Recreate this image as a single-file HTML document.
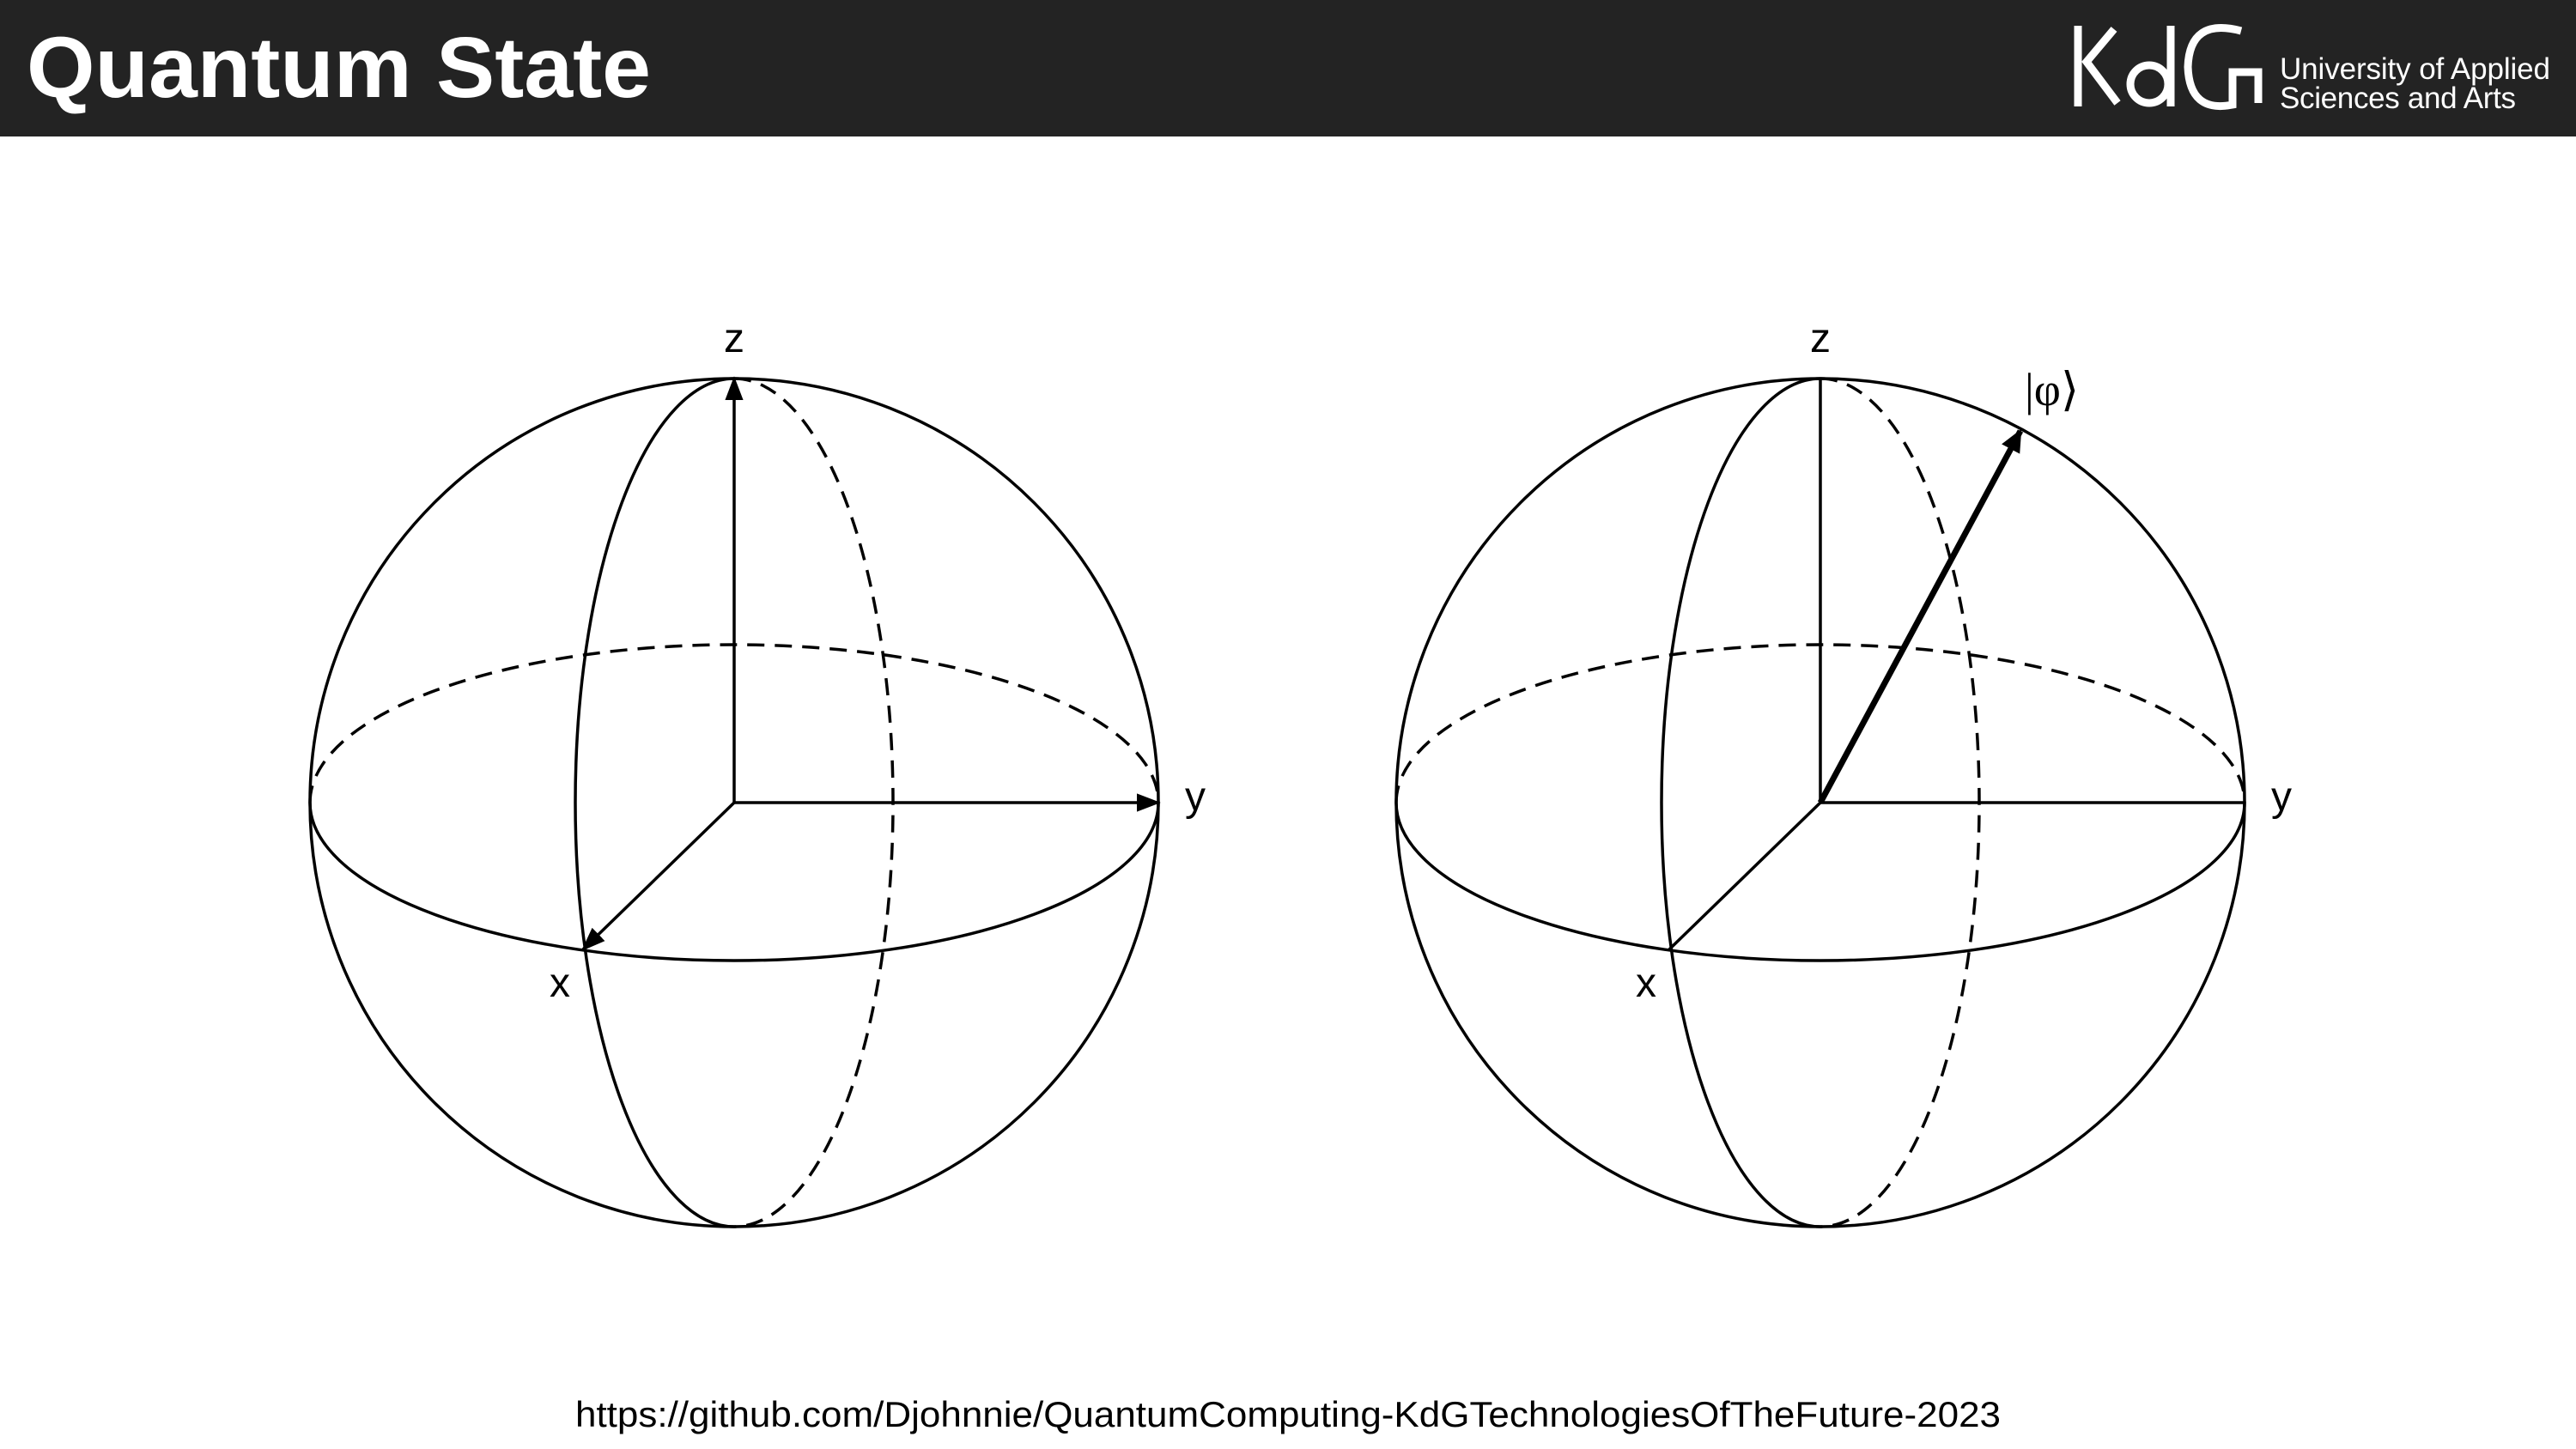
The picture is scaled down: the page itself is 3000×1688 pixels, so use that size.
<!DOCTYPE html>
<html><head><meta charset="utf-8"><style>
html,body{margin:0;padding:0;background:#fff;}
svg{display:block;}
</style></head><body>
<svg width="3000" height="1688" viewBox="0 0 3000 1688" xmlns="http://www.w3.org/2000/svg">
<defs>
<marker id="ah" viewBox="0 0 10 10" refX="9" refY="5" markerWidth="8" markerHeight="8" orient="auto-start-reverse" markerUnits="strokeWidth">
<path d="M0,1.2 L10,5 L0,8.8 z" fill="#000"/>
</marker>
<marker id="ah2" viewBox="0 0 10 10" refX="9" refY="5" markerWidth="3.8" markerHeight="3.8" orient="auto" markerUnits="strokeWidth">
<path d="M0,0.5 L10,5 L0,9.5 z" fill="#000"/>
</marker>
</defs>
<rect x="0" y="0" width="3000" height="159" fill="#232323"/>
<text x="31" y="113" font-family="Liberation Sans, sans-serif" font-weight="bold" font-size="100" fill="#fff" textLength="727" lengthAdjust="spacingAndGlyphs">Quantum State</text>
<g fill="none" stroke="#fff" stroke-width="9">
<line x1="2420" y1="30" x2="2420" y2="124"/>
<path d="M2462,34 L2430,72 L2466,120"/>
<circle cx="2503" cy="98" r="22"/>
<line x1="2528" y1="30" x2="2528" y2="124"/>
<path d="M2610,36 Q2550,20 2548,78 Q2550,132 2600,122 L2600,84 L2630,84 L2630,120"/>
</g>
<text x="2655" y="92" font-family="Liberation Sans, sans-serif" font-size="35" fill="#fff" textLength="315">University of Applied</text>
<text x="2655" y="126" font-family="Liberation Sans, sans-serif" font-size="35" fill="#fff" textLength="275">Sciences and Arts</text>

<g id="spheres"></g>

<text x="1500" y="1662" text-anchor="middle" font-family="Liberation Sans, sans-serif" font-size="42" fill="#000" textLength="1660" lengthAdjust="spacingAndGlyphs">https://github.com/Djohnnie/QuantumComputing-KdGTechnologiesOfTheFuture-2023</text>
</svg>
<script>
const sphereCentersX = [855, 2120];
const sphereCenterY = 935;
const radius = 494;
const equatorRy = 184;
const meridianRx = 185;
const axisLabels = ['z','y','x'];
const stateVector = [233, -433];
const NS='http://www.w3.org/2000/svg';
const g=document.getElementById('spheres');
function mk(tag,attrs,parent){const e=document.createElementNS(NS,tag);for(const k in attrs)e.setAttribute(k,attrs[k]);(parent||g).appendChild(e);return e;}
sphereCentersX.forEach((cx,i)=>{
  const cy=sphereCenterY,r=radius;
  const sg=mk('g',{fill:'none',stroke:'#000','stroke-width':3.5});
  
  
  const c=mk('circle',{cx,cy,r},sg);
  
  
  const ef=mk('path',{d:`M${cx-r},${cy} A${r},${equatorRy} 0 0 0 ${cx+r},${cy}`},sg);
  
  
  const eb=mk('path',{d:`M${cx-r},${cy} A${r},${equatorRy} 0 0 1 ${cx+r},${cy}`,'stroke-dasharray':'20 12'},sg);
  
  
  const mf=mk('path',{d:`M${cx},${cy-r} A${meridianRx},${r} 0 0 0 ${cx},${cy+r}`},sg);
  
  
  const mb=mk('path',{d:`M${cx},${cy-r} A${meridianRx},${r} 0 0 1 ${cx},${cy+r}`,'stroke-dasharray':'20 12'},sg);
  
  
  const arrow = i===0 ? {'marker-end':'url(#ah)'} : {};
  const xa=mk('line',Object.assign({x1:cx,y1:cy,x2:cx-176,y2:cy+171},arrow),sg);
  
  
  const ya=mk('line',Object.assign({x1:cx,y1:cy,x2:cx+r,y2:cy},arrow),sg);
  
  
  const za=mk('line',Object.assign({x1:cx,y1:cy,x2:cx,y2:cy-r},arrow),sg);
  
  
  if(i===1){
    const sv=mk('line',{x1:cx,y1:cy,x2:cx+stateVector[0],y2:cy+stateVector[1],'stroke-width':7,'marker-end':'url(#ah2)'},sg);
    
    
    const t=mk('text',{x:cx+stateVector[0]+5,y:cy+stateVector[1]-30,'font-family':'Liberation Serif, serif','font-size':54,fill:'#000'});
    t.textContent='|φ⟩';
    
    
  }
  const pos=[[cx,cy-r-31,'middle'],[cx+r+31,cy+9,'start'],[cx-215,cy+226,'start']];
  axisLabels.forEach((l,j)=>{
    const t=mk('text',{x:pos[j][0],y:pos[j][1],'text-anchor':pos[j][2],'font-family':'Liberation Sans, sans-serif','font-size':48,fill:'#000'});
    t.textContent=l;
    
    
  });
});
</script>
</body></html>
